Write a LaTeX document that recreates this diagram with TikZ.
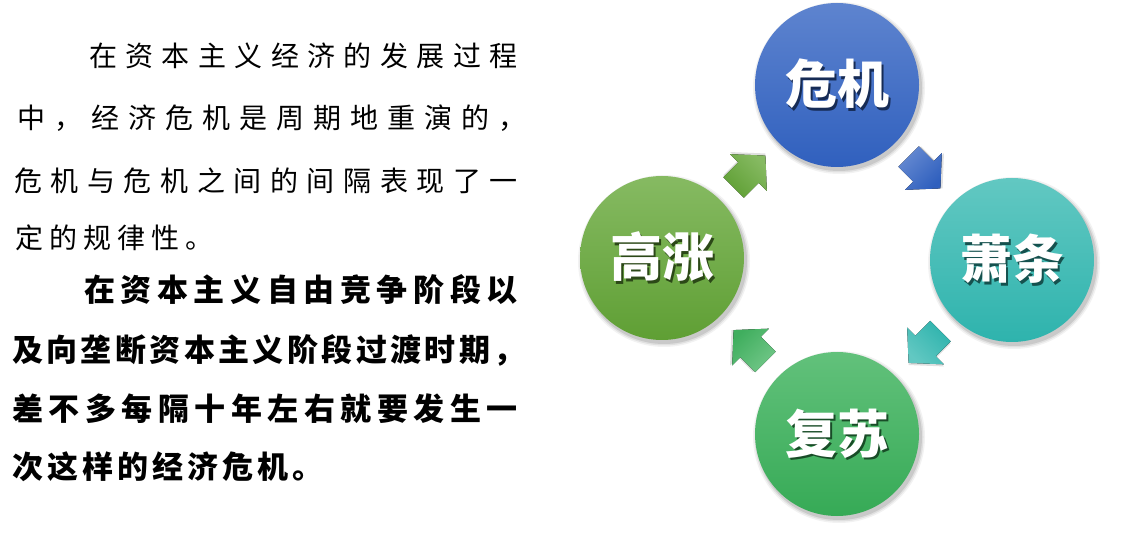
\documentclass[tikz,border=0pt]{standalone}
\usepackage{fontspec}
\newfontfamily\cjk{Noto Sans CJK SC}
\usetikzlibrary{calc}
\definecolor{crisisTop}{HTML}{5E84CF}
\definecolor{crisisBot}{HTML}{3060BE}
\definecolor{slumpTop}{HTML}{62C8C2}
\definecolor{slumpBot}{HTML}{2EB3AD}
\definecolor{recovTop}{HTML}{62C17B}
\definecolor{recovBot}{HTML}{36AA56}
\definecolor{boomTop}{HTML}{86BA62}
\definecolor{boomBot}{HTML}{5F9F34}
\makeatletter
\def\sp@aux#1{\ifx#1\relax\else\makebox[\sp@pitch][l]{#1}\expandafter\sp@aux\fi}
\newcommand\spacedtext[2]{\def\sp@pitch{#1}\sp@aux#2\relax}
\makeatother
% white label with a dark drop shadow, set in one box
\newcommand\shadowed[2]{\rlap{\hspace{2.5pt}\raisebox{-2.5pt}{\textcolor{#1}{#2}}}#2}
\tikzset{
  regline/.style={anchor=base west, inner sep=0pt, font=\cjk\fontsize{28}{28}\selectfont},
  boldline/.style={anchor=base west, inner sep=0pt, font=\cjk\bfseries\fontsize{31}{31}\selectfont},
  phase/.style 2 args={circle, minimum size=164pt, inner sep=0pt, top color=#1, bottom color=#2},
  phaselabel/.style={anchor=base, inner sep=0pt, text=white, font=\cjk\bfseries\fontsize{52}{52}\selectfont},
}
\newcommand\cyclearrow[5]{%
  \begin{scope}[shift={($(#1)!0.5!(#2)$)}, rotate=#3]
    \fill[black, opacity=0.12, shift={(1.5,-1.5)}] (-22.5,-14.5) -- (-1.5,-14.5) -- (-1.5,-26) -- (22.5,0) -- (-1.5,26) -- (-1.5,14.5) -- (-22.5,14.5) -- cycle;
    \fill[top color=#4, bottom color=#5, shading angle={-#3}] (-22.5,-14.5) -- (-1.5,-14.5) -- (-1.5,-26) -- (22.5,0) -- (-1.5,26) -- (-1.5,14.5) -- (-22.5,14.5) -- cycle;
  \end{scope}}
\newcommand\softshadow[1]{%
  \foreach \r/\o in {86/0.05,84.5/0.07,83/0.1}{\fill[black, opacity=\o] ($(#1)+(2,3)$) circle[radius=\r pt];}}
\begin{document}
\begin{tikzpicture}[x=1pt, y=-1pt]
\useasboundingbox (0,0) rectangle (1148,534);
\fill[white] (0,0) rectangle (1148,534);

% left paragraph 1
\node[regline] (p1a) at (89,66.4)  {\spacedtext{36.4pt}{在资本主义经济的发展过程}};
\node[regline] (p1b) at (17,128.4) {\spacedtext{37pt}{中，经济危机是周期地重演的，}};
\node[regline] (p1c) at (14,191.4) {\spacedtext{36.6pt}{危机与危机之间的间隔表现了一}};
\node[regline] (p1d) at (15,248.4) {\spacedtext{34pt}{定的规律性。}};

% left paragraph 2
\node[boldline] (p2a) at (84,301.5) {\spacedtext{36.6pt}{在资本主义自由竞争阶段以}};
\node[boldline] (p2b) at (12,361.5) {\spacedtext{34.4pt}{及向垄断资本主义阶段过渡时期，}};
\node[boldline] (p2c) at (12,420.5) {\spacedtext{36.5pt}{差不多每隔十年左右就要发生一}};
\node[boldline] (p2d) at (12,478.5) {\spacedtext{35pt}{次这样的经济危机。}};

% cycle
\coordinate (cC) at (837,85);
\coordinate (cS) at (1012,260);
\coordinate (cR) at (837,434);
\coordinate (cB) at (662,258);

\softshadow{cC}
\softshadow{cS}
\softshadow{cR}
\softshadow{cB}

\node[phase={crisisTop}{crisisBot}] (crisis) at (cC) {};
\node[phase={slumpTop}{slumpBot}] (slump) at (cS) {};
\node[phase={recovTop}{recovBot}] (recovery) at (cR) {};
\node[phase={boomTop}{boomBot}] (boom) at (cB) {};

\node[phaselabel] (crisistext) at ($(crisis.center)+(0,19)$) {\shadowed{crisisBot!45!black}{危机}};
\node[phaselabel] (slumptext) at ($(slump.center)+(0,19)$) {\shadowed{slumpBot!45!black}{萧条}};
\node[phaselabel] (recoverytext) at ($(recovery.center)+(0,19)$) {\shadowed{recovBot!45!black}{复苏}};
\node[phaselabel] (boomtext) at ($(boom.center)+(0,19)$) {\shadowed{boomBot!45!black}{高涨}};

\cyclearrow{crisis}{slump}{-45}{crisisTop!95!white}{crisisBot}
\cyclearrow{slump}{recovery}{-135}{slumpTop}{slumpBot}
\cyclearrow{recovery}{boom}{135}{recovTop!90!white}{recovBot!95!white}
\cyclearrow{boom}{crisis}{45}{boomTop}{boomBot}
\end{tikzpicture}
\end{document}
